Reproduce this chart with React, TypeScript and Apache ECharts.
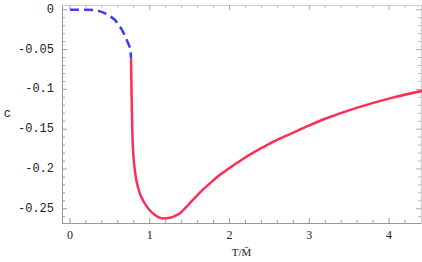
import React, { useEffect, useRef } from "react";
import * as echarts from "echarts";

const xMajor = [0, 1, 2, 3, 4];
const xMinor = [0.2, 0.4, 0.6, 0.8, 1.2, 1.4, 1.6, 1.8, 2.2, 2.4, 2.6, 2.8, 3.2, 3.4, 3.6, 3.8, 4.2];
const yMajor = [0, -0.05, -0.1, -0.15, -0.2, -0.25];
const yMinor = [-0.01, -0.02, -0.03, -0.04, -0.06, -0.07, -0.08, -0.09, -0.11, -0.12, -0.13, -0.14, -0.16, -0.17, -0.18, -0.19, -0.21, -0.22, -0.23, -0.24, -0.26];

const blueX = [0, 0.1, 0.2, 0.3, 0.377, 0.44, 0.5, 0.56, 0.607, 0.65, 0.69, 0.725, 0.754, 0.766];
const blueY = [0, 0, 0, -0.0005, -0.002, -0.0045, -0.008, -0.0125, -0.0185, -0.025, -0.033, -0.041, -0.049, -0.0616];

const redX = [0.766, 0.769, 0.773, 0.779, 0.788, 0.805, 0.825, 0.85, 0.888, 0.955, 1.026, 1.106, 1.18, 1.256, 1.32, 1.382, 1.46, 1.549, 1.65, 1.759, 1.86, 1.968, 2.177, 2.387, 2.596, 2.764, 2.97, 3.182, 3.602, 4.02, 4.418];
const redY = [-0.0616, -0.085, -0.111, -0.14, -0.172, -0.195, -0.21, -0.222, -0.234, -0.246, -0.2546, -0.2605, -0.2622, -0.2613, -0.2588, -0.2552, -0.2475, -0.238, -0.2275, -0.2176, -0.2088, -0.201, -0.1868, -0.1745, -0.1634, -0.156, -0.1465, -0.1375, -0.123, -0.111, -0.1018];

const X_MIN = -0.1;
const X_MAX = 4.4;
const Y_MIN = -0.268;
const Y_MAX = 0.006;

const yLabel = (v: number) => (v === 0 ? "0" : String(v));

function tickSeries(values: number[], side: "bottom" | "top" | "left" | "right", len: number, color: string) {
  return {
    type: "custom",
    xAxisIndex: 0,
    yAxisIndex: 0,
    silent: true,
    clip: false,
    z: 1,
    data: values.map((v) => [v]),
    renderItem: (params: any, api: any) => {
      const v = api.value(0);
      let p: number[];
      let dx = 0;
      let dy = 0;
      if (side === "bottom") { p = api.coord([v, Y_MIN]); dy = -len; }
      else if (side === "top") { p = api.coord([v, Y_MAX]); dy = len; }
      else if (side === "left") { p = api.coord([X_MIN, v]); dx = len; }
      else { p = api.coord([X_MAX, v]); dx = -len; }
      return {
        type: "line",
        shape: { x1: p[0], y1: p[1], x2: p[0] + dx, y2: p[1] + dy },
        style: { stroke: color, lineWidth: 1 },
      };
    },
  };
}

export default function App() {
  const ref = useRef<HTMLDivElement>(null);
  useEffect(() => {
    if (!ref.current) return;
    const chart = echarts.init(ref.current, null, { renderer: "svg" });
    chart.setOption({
      animation: false,
      backgroundColor: "#fff",
      grid: { left: 62, top: 5, right: 1, bottom: 34, containLabel: false },
      xAxis: [
        {
          type: "value",
          min: X_MIN,
          max: X_MAX,
          position: "bottom",
          splitLine: { show: false },
          name: "T/M\u0304",
          nameLocation: "middle",
          nameGap: 21,
          nameTextStyle: { fontFamily: "Liberation Serif", fontSize: 11, color: "#222" },
          axisLine: { show: true, onZero: false, lineStyle: { color: "#999", width: 1 } },
          axisTick: { show: false },
          axisLabel: { show: true, customValues: xMajor, margin: 6, fontFamily: "Liberation Serif", fontSize: 12, color: "#222" },
        },
        {
          type: "value",
          min: X_MIN,
          max: X_MAX,
          position: "top",
          splitLine: { show: false },
          axisLine: { show: true, onZero: false, lineStyle: { color: "#ccc", width: 1 } },
          axisTick: { show: false },
          axisLabel: { show: false },
        },
      ],
      yAxis: [
        {
          type: "value",
          min: Y_MIN,
          max: Y_MAX,
          position: "left",
          splitLine: { show: false },
          name: "c",
          nameLocation: "middle",
          nameRotate: 0,
          nameGap: 51,
          nameTextStyle: { fontFamily: "Liberation Mono", fontSize: 12, color: "#222" },
          axisLine: { show: true, onZero: false, lineStyle: { color: "#999", width: 1 } },
          axisTick: { show: false },
          axisLabel: { show: true, customValues: yMajor, margin: 8, formatter: yLabel, fontFamily: "Liberation Mono", fontSize: 12, color: "#222" },
        },
        {
          type: "value",
          min: Y_MIN,
          max: Y_MAX,
          position: "right",
          splitLine: { show: false },
          axisLine: { show: true, onZero: false, lineStyle: { color: "#ccc", width: 1 } },
          axisTick: { show: false },
          axisLabel: { show: false },
        },
      ],
      series: [
        tickSeries(xMajor, "bottom", 5, "#999"),
        tickSeries(xMinor, "bottom", 3, "#999"),
        tickSeries(xMajor, "top", 5, "#aaa"),
        tickSeries(xMinor, "top", 3, "#bbb"),
        tickSeries(yMajor, "left", 5, "#999"),
        tickSeries(yMinor, "left", 3, "#999"),
        tickSeries(yMajor, "right", 5, "#aaa"),
        tickSeries(yMinor, "right", 3, "#bbb"),
        {
          type: "line",
          xAxisIndex: 0,
          yAxisIndex: 0,
          data: blueX.map((x, i) => [x, blueY[i]]),
          showSymbol: false,
          smooth: 0.3,
          z: 3,
          lineStyle: { color: "#3b3bff", width: 2.5, type: [9, 5] },
        },
        {
          type: "line",
          xAxisIndex: 0,
          yAxisIndex: 0,
          data: redX.map((x, i) => [x, redY[i]]),
          showSymbol: false,
          smooth: 0.3,
          z: 3,
          lineStyle: { color: "#ff2d55", width: 2.5 },
        },
      ],
    });
    return () => chart.dispose();
  }, []);
  return <div ref={ref} style={{ width: 422, height: 262, position: "absolute", left: 0, top: 0 }} />;
}
